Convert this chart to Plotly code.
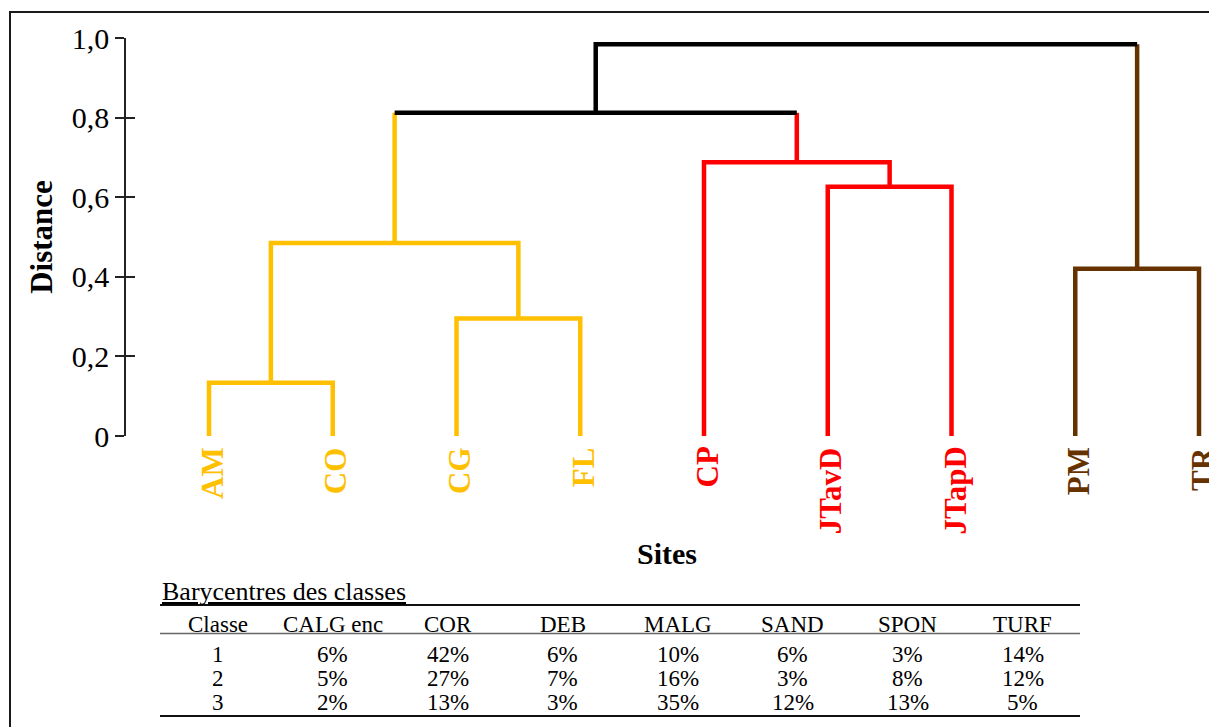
import plotly.graph_objects as go

# ---------------- data ----------------
leaves = ["AM", "CO", "CG", "FL", "CP", "JTavD", "JTapD", "PM", "TR"]
leaf_cluster = [0, 0, 0, 0, 1, 1, 1, 2, 2]
cluster_colors = ["#FFC000", "#FF0000", "#663300"]
link_color_above = "#000000"

# merges: node ids 0..8 are leaves, merges create nodes 9, 10, ...
merge_left = [0, 2, 9, 5, 4, 7, 11, 15]
merge_right = [1, 3, 10, 6, 12, 8, 13, 14]
merge_height = [0.134, 0.295, 0.485, 0.626, 0.688, 0.420, 0.812, 0.984]

y_tickvals = [0, 0.2, 0.4, 0.6, 0.8, 1.0]
y_ticktext = ["0", "0,2", "0,4", "0,6", "0,8", "1,0"]

table_title = "Barycentres des classes"
table_columns = ["Classe", "CALG enc", "COR", "DEB", "MALG", "SAND", "SPON", "TURF"]
classes = [1, 2, 3]
calg_enc = [6, 5, 2]
cor = [42, 27, 13]
deb = [6, 7, 3]
malg = [10, 16, 35]
sand = [6, 3, 12]
spon = [3, 8, 13]
turf = [14, 12, 5]

# ---------------- layout geometry ----------------
W, H = 1209, 727
PLOT_L, PLOT_R, PLOT_T, PLOT_B = 126, 1208, 38, 436   # in window pixels
ML, MT, MR, MB = PLOT_L, PLOT_T, W - PLOT_R, H - PLOT_B
PW, PH = PLOT_R - PLOT_L, PLOT_B - PLOT_T
FONT = "Liberation Serif, Times New Roman, serif"


def fx(px):
    return (px - PLOT_L) / PW


def fy(py):
    return (PLOT_B - py) / PH


# ---------------- dendrogram geometry ----------------
node_x = {i: float(i) for i in range(len(leaves))}
node_h = {i: 0.0 for i in range(len(leaves))}
node_cl = {i: leaf_cluster[i] for i in range(len(leaves))}


def col_of(cl):
    return cluster_colors[cl] if cl is not None else link_color_above


segments = {}  # color -> (xs, ys)
n = len(leaves)
for k, (a, b, h) in enumerate(zip(merge_left, merge_right, merge_height)):
    nid = n + k
    node_x[nid] = (node_x[a] + node_x[b]) / 2
    node_h[nid] = h
    node_cl[nid] = node_cl[a] if node_cl[a] == node_cl[b] else None
    pieces = [
        ([node_x[a], node_x[a]], [node_h[a], h], col_of(node_cl[a])),
        ([node_x[a], node_x[b]], [h, h], col_of(node_cl[nid])),
        ([node_x[b], node_x[b]], [h, node_h[b]], col_of(node_cl[b])),
    ]
    merged = []
    for xs, ys, c in pieces:
        if merged and merged[-1][2] == c:
            merged[-1][0].extend(xs[1:])
            merged[-1][1].extend(ys[1:])
        else:
            merged.append([list(xs), list(ys), c])
    for xs, ys, c in merged:
        sx, sy = segments.setdefault(c, ([], []))
        sx.extend(xs + [None])
        sy.extend(ys + [None])

fig = go.Figure()
for c, (xs, ys) in segments.items():
    fig.add_trace(go.Scatter(x=xs, y=ys, mode="lines",
                             line=dict(color=c, width=4.5),
                             hoverinfo="skip", showlegend=False))
# helper trace for the inner half of the crossing ticks
fig.add_trace(go.Scatter(x=[], y=[], yaxis="y2", showlegend=False, hoverinfo="skip"))

annotations = []
# leaf labels
for i, name in enumerate(leaves):
    annotations.append(dict(
        x=node_x[i], y=0, xref="x", yref="y", xanchor="center", yanchor="top",
        text=f"<b>{name}</b>", textangle=-90, showarrow=False, xshift=3, yshift=-9,
        font=dict(family=FONT, size=31, color=cluster_colors[leaf_cluster[i]])))

# table caption
annotations.append(dict(
    x=fx(160), y=fy(591), xref="paper", yref="paper", xanchor="left", yanchor="middle",
    text=f"<u>{table_title}</u>", showarrow=False,
    font=dict(family=FONT, size=26, color="#000")))

# table text
t_left, t_right = 160, 1080
col_w = (t_right - t_left) / len(table_columns)
header_y = 624
row_y = [654.5, 678, 702]
rows = [classes, calg_enc, cor, deb, malg, sand, spon, turf]
for j, name in enumerate(table_columns):
    cx = t_left + col_w * (j + 0.5)
    annotations.append(dict(
        x=fx(cx), y=fy(header_y), xref="paper", yref="paper",
        xanchor="center", yanchor="middle", text=name, showarrow=False,
        font=dict(family=FONT, size=23, color="#000")))
    for r in range(len(classes)):
        v = rows[j][r]
        txt = str(v) if j == 0 else f"{v}%"
        annotations.append(dict(
            x=fx(cx), y=fy(row_y[r]), xref="paper", yref="paper",
            xanchor="center", yanchor="middle", text=txt, showarrow=False,
            font=dict(family=FONT, size=23, color="#000")))

shapes = [
    # outer frame (extends past the visible window on the right / bottom)
    dict(type="rect", xref="paper", yref="paper", x0=fx(10), x1=fx(1300),
         y0=fy(900), y1=fy(12), line=dict(color="#1a1a1a", width=2), layer="below"),
    # table rules
    dict(type="line", xref="paper", yref="paper", x0=fx(t_left), x1=fx(t_right),
         y0=fy(605), y1=fy(605), line=dict(color="#111", width=2)),
    dict(type="line", xref="paper", yref="paper", x0=fx(t_left), x1=fx(t_right),
         y0=fy(633.5), y1=fy(633.5), line=dict(color="#666", width=1.5)),
    dict(type="line", xref="paper", yref="paper", x0=fx(t_left), x1=fx(t_right),
         y0=fy(716), y1=fy(716), line=dict(color="#111", width=2)),
]

span = 123.75
fig.update_layout(
    width=W, height=H,
    margin=dict(l=ML, r=MR, t=MT, b=MB, autoexpand=False),
    paper_bgcolor="white", plot_bgcolor="white",
    font=dict(family=FONT, color="#000"),
    showlegend=False,
    xaxis=dict(range=[-(209 - PLOT_L) / span, (PLOT_R - 209) / span],
               showline=False, showgrid=False, zeroline=False,
               showticklabels=False, ticks="",
               title=dict(text="<b>Sites</b>", standoff=106,
                          font=dict(family=FONT, size=30, color="#000"))),
    yaxis=dict(range=[0, 1], tickvals=y_tickvals, ticktext=y_ticktext,
               ticks="outside", ticklen=9, tickwidth=1.5, tickcolor="#222",
               showline=True, linecolor="#222", linewidth=1.5,
               showgrid=False, zeroline=False,
               tickfont=dict(family=FONT, size=30, color="#000"),
               title=dict(text="<b>Distance</b>", standoff=10,
                          font=dict(family=FONT, size=31, color="#000"))),
    yaxis2=dict(range=[0, 1], overlaying="y", side="left", anchor="x",
                tickvals=y_tickvals, ticks="inside", ticklen=9, tickwidth=1.5,
                tickcolor="#222", showticklabels=False, showline=False,
                showgrid=False, zeroline=False),
    annotations=annotations,
    shapes=shapes,
)

fig.write_html(
    "out.html",
    config={"displayModeBar": False},
    post_script="document.body.style.margin='0';document.body.style.overflow='hidden';",
)
